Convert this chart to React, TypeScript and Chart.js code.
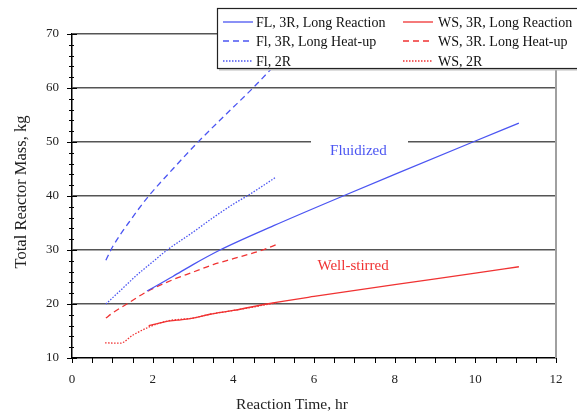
import React, { useEffect, useRef } from 'react';
import { Chart, registerables } from 'chart.js';
Chart.register(...registerables);

const flReactionT = [1.86, 2.5, 3.0, 3.67, 5.0, 6.72, 8.0, 9.94, 11.08];
const flReactionM = [22.4, 25.1, 27.3, 30.0, 34.5, 40.0, 44.0, 50.0, 53.5];
const flHeatT = [0.84, 1.0, 1.4, 1.88, 2.5, 3.1, 3.8, 4.46, 5.0];
const flHeatM = [28.1, 30.5, 35.0, 39.8, 45.0, 49.8, 55.0, 59.8, 64.0];
const fl2RT = [0.84, 1.2, 1.6, 2.0, 2.36, 3.0, 3.5, 4.0, 4.34, 5.06];
const fl2RM = [20.0, 22.5, 25.3, 27.8, 30.0, 33.3, 36.0, 38.5, 40.0, 43.5];
const wsReactionT = [1.9, 2.3, 2.6, 3.0, 3.42, 4.0, 4.83, 6.0, 8.0, 10.0, 11.08];
const wsReactionM = [16.0, 16.7, 17.0, 17.4, 18.1, 18.8, 20.0, 21.4, 23.6, 25.7, 26.9];
const wsHeatT = [0.84, 1.0, 1.36, 1.86, 2.5, 3.0, 3.5, 4.0, 4.73, 5.1];
const wsHeatM = [17.4, 18.3, 20.0, 22.3, 24.5, 25.9, 27.3, 28.4, 30.0, 31.1];
const ws2RT = [0.82, 1.2, 1.5, 1.93, 2.36, 3.0, 3.42, 4.0, 5.06];
const ws2RM = [12.8, 12.75, 14.2, 15.8, 16.85, 17.4, 18.1, 18.8, 20.2];

const seriesNames = [
  'FL, 3R, Long Reaction',
  'Fl, 3R, Long Heat-up',
  'Fl, 2R',
  'WS, 3R, Long Reaction',
  'WS, 3R. Long Heat-up',
  'WS, 2R',
];
const xTicks = [0, 2, 4, 6, 8, 10, 12];
const yTicks = [10, 20, 30, 40, 50, 60, 70];
const xTitle = 'Reaction Time, hr';
const yTitle = 'Total Reactor Mass, kg';

const BLUE = '#4b55f2';
const RED = '#f03232';
const FONT = "'Liberation Serif', 'Times New Roman', serif";

const pts = (t: number[], m: number[]) => t.map((x, i) => ({ x, y: m[i] }));

export default function App() {
  const ref = useRef<HTMLCanvasElement>(null);
  useEffect(() => {
    const dashes = [[], [6, 4], [1.5, 1.5]];
    const mk = (label: string, data: any, color: string, dash: number[]) => ({
      label,
      data,
      borderColor: color,
      backgroundColor: color,
      borderWidth: 1.3,
      borderDash: dash,
      pointRadius: 0,
      fill: false,
      cubicInterpolationMode: 'monotone' as const,
    });
    const datasets = [
      mk(seriesNames[0], pts(flReactionT, flReactionM), BLUE, dashes[0]),
      mk(seriesNames[1], pts(flHeatT, flHeatM), BLUE, dashes[1]),
      mk(seriesNames[2], pts(fl2RT, fl2RM), BLUE, dashes[2]),
      mk(seriesNames[3], pts(wsReactionT, wsReactionM), RED, dashes[0]),
      mk(seriesNames[4], pts(wsHeatT, wsHeatM), RED, dashes[1]),
      mk(seriesNames[5], pts(ws2RT, ws2RM), RED, dashes[2]),
    ];

    const decor = {
      id: 'decor',
      beforeDatasetsDraw(chart: any) {
        const { ctx, scales } = chart;
        const xs = scales.x, ys = scales.y;
        ctx.save();
        ctx.fillStyle = '#fff';
        ctx.fillRect(311, ys.getPixelForValue(50) - 3, 97, 6);
        ctx.strokeStyle = '#a0a0a0';
        ctx.lineWidth = 2;
        ctx.beginPath();
        ctx.moveTo(xs.right, ys.top);
        ctx.lineTo(xs.right, ys.bottom);
        ctx.stroke();
        ctx.strokeStyle = '#000';
        ctx.lineWidth = 1;
        for (let v = 0; v <= 12.001; v += 0.5) {
          const px = Math.round(xs.getPixelForValue(v)) + 0.5;
          ctx.beginPath();
          ctx.moveTo(px, ys.bottom);
          ctx.lineTo(px, ys.bottom + 5);
          ctx.stroke();
        }
        for (let v = 10; v <= 70.001; v += 2) {
          const py = Math.round(ys.getPixelForValue(v)) + 0.5;
          const major = Math.abs((v - 10) % 10) < 0.01;
          ctx.beginPath();
          ctx.moveTo(xs.left - (major ? 5 : 3), py);
          ctx.lineTo(xs.left + (major ? 5 : 2), py);
          ctx.stroke();
        }
        ctx.restore();
      },
      afterDraw(chart: any) {
        const { ctx, scales } = chart;
        const xs = scales.x, ys = scales.y;
        ctx.save();
        ctx.textAlign = 'center';
        ctx.textBaseline = 'middle';
        ctx.fillStyle = '#222';
        ctx.font = `15.5px ${FONT}`;
        ctx.fillText(xTitle, 292, 405);
        ctx.save();
        ctx.translate(22, 192);
        ctx.rotate(-Math.PI / 2);
        ctx.font = `16.5px ${FONT}`;
        ctx.fillText(yTitle, 0, 0);
        ctx.restore();
        ctx.font = `15px ${FONT}`;
        ctx.fillStyle = BLUE;
        ctx.fillText('Fluidized', xs.getPixelForValue(7.1), ys.getPixelForValue(48.3));
        ctx.fillStyle = RED;
        ctx.fillText('Well-stirred', xs.getPixelForValue(6.97), ys.getPixelForValue(27.1));
        const L = 217, T = 8, R = 590, B = 68;
        ctx.fillStyle = '#fff';
        ctx.fillRect(L, T, R - L, B - T);
        ctx.strokeStyle = '#222';
        ctx.lineWidth = 1.2;
        ctx.strokeRect(L + 0.5, T + 0.5, R - L, B - T);
        ctx.fillStyle = '#bbb';
        ctx.fillRect(L + 2, B + 1, R - L, 1.5);
        const rows = [22, 41, 61];
        const cols = [[223, 253, 256], [403, 433, 438]];
        ctx.font = `14px ${FONT}`;
        ctx.textAlign = 'left';
        datasets.forEach((d, i) => {
          const c = cols[Math.floor(i / 3)];
          const y = rows[i % 3];
          ctx.strokeStyle = d.borderColor;
          ctx.lineWidth = 1.3;
          ctx.setLineDash(d.borderDash);
          ctx.beginPath();
          ctx.moveTo(c[0], y);
          ctx.lineTo(c[1], y);
          ctx.stroke();
          ctx.setLineDash([]);
          ctx.fillStyle = '#111';
          ctx.fillText(d.label, c[2], y + 1);
        });
        ctx.restore();
      },
    };

    const chart = new Chart(ref.current!, {
      type: 'line',
      data: { datasets },
      options: {
        animation: false,
        responsive: false,
        layout: { padding: { top: 34, right: 21, left: 0, bottom: 0 } },
        plugins: { legend: { display: false }, tooltip: { enabled: false } },
        scales: {
          x: {
            type: 'linear',
            min: 0,
            max: 12,
            afterFit: (s: any) => { s.height = 56; },
            afterBuildTicks: (s: any) => { s.ticks = xTicks.map((v) => ({ value: v })); },
            ticks: { color: '#222', font: { family: FONT, size: 13 }, padding: 14, maxRotation: 0 },
            grid: { display: true, drawOnChartArea: false, drawTicks: false },
            border: { display: true, color: '#000', width: 1.5 },
          },
          y: {
            type: 'linear',
            min: 10,
            max: 70,
            afterFit: (s: any) => { s.width = 72; },
            afterBuildTicks: (s: any) => { s.ticks = yTicks.map((v) => ({ value: v })); },
            ticks: { color: '#222', font: { family: FONT, size: 13 }, padding: 13 },
            grid: {
              drawTicks: false,
              color: (c: any) => (c.tick && c.tick.value === 10 ? 'rgba(0,0,0,0)' : '#555'),
              lineWidth: 1.5,
            },
            border: { display: true, color: '#000', width: 1.5 },
          },
        },
      },
      plugins: [decor],
    });
    return () => chart.destroy();
  }, []);
  return (
    <div style={{ position: 'fixed', left: 0, top: 0, width: 577, height: 414, background: '#fff' }}>
      <canvas ref={ref} width={577} height={414} style={{ width: 577, height: 414 }} />
    </div>
  );
}
